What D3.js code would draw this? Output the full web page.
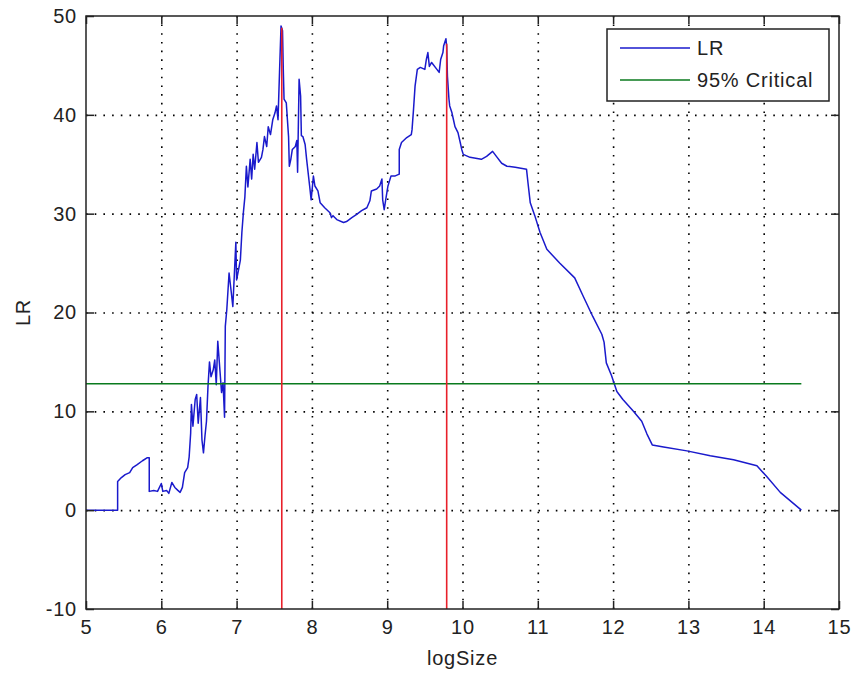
<!DOCTYPE html>
<html>
<head>
<meta charset="utf-8">
<script src="https://cdn.jsdelivr.net/npm/d3@7"></script>
<style>
  body { margin: 0; background: #fff; }
  text { font-family: "Liberation Sans", Arial, sans-serif; }
</style>
</head>
<body>
<div id="viz"></div>
<script>
// LR curve
const logSize = [5.00, 5.42, 5.42, 5.47, 5.52, 5.58, 5.62, 5.68, 5.75, 5.81, 5.84, 5.84, 5.90, 5.95, 6.00, 6.02, 6.07, 6.10, 6.14, 6.18,
  6.22, 6.25, 6.28, 6.31, 6.35, 6.37, 6.39, 6.40, 6.42, 6.45, 6.47, 6.49, 6.52, 6.54, 6.56, 6.58, 6.60, 6.62, 6.64, 6.66,
  6.69, 6.71, 6.73, 6.75, 6.78, 6.80, 6.82, 6.84, 6.85, 6.87, 6.90, 6.93, 6.95, 6.99, 7.00, 7.05, 7.07, 7.09, 7.11, 7.13,
  7.15, 7.18, 7.20, 7.22, 7.24, 7.27, 7.29, 7.33, 7.35, 7.37, 7.40, 7.42, 7.45, 7.48, 7.51, 7.53, 7.55, 7.57, 7.59, 7.61,
  7.62, 7.63, 7.66, 7.69, 7.70, 7.72, 7.74, 7.78, 7.80, 7.81, 7.83, 7.85, 7.86, 7.88, 7.91, 7.93, 7.97, 7.99, 8.02, 8.04,
  8.08, 8.11, 8.17, 8.24, 8.26, 8.28, 8.33, 8.42, 8.46, 8.53, 8.59, 8.66, 8.73, 8.77, 8.79, 8.86, 8.90, 8.93, 8.94, 8.96,
  8.98, 9.01, 9.05, 9.10, 9.16, 9.16, 9.19, 9.26, 9.32, 9.33, 9.35, 9.37, 9.40, 9.44, 9.50, 9.52, 9.54, 9.56, 9.59, 9.66,
  9.69, 9.71, 9.74, 9.75, 9.78, 9.79, 9.80, 9.82, 9.83, 9.86, 9.88, 9.90, 9.94, 9.97, 9.99, 10.01, 10.10, 10.25, 10.32, 10.40,
  10.45, 10.52, 10.59, 10.70, 10.85, 10.87, 10.90, 10.96, 11.03, 11.12, 11.29, 11.49, 11.60, 11.73, 11.85, 11.88, 11.91, 11.98, 12.05, 12.13,
  12.27, 12.38, 12.45, 12.52, 12.67, 12.98, 13.29, 13.60, 13.91, 14.04, 14.22, 14.50];
const lr = [0, 0, 2.9, 3.3, 3.6, 3.8, 4.3, 4.6, 5.0, 5.3, 5.3, 1.9, 2.0, 1.9, 2.7, 1.9, 2.0, 1.7, 2.8, 2.3,
  2.0, 1.8, 2.3, 3.8, 4.3, 5.4, 7.8, 10.7, 8.5, 11.2, 11.7, 8.8, 11.4, 7.1, 5.8, 7.5, 9.0, 12.5, 15.0, 13.5,
  14.2, 15.2, 12.7, 17.1, 14.0, 11.9, 12.9, 9.4, 18.6, 20.3, 24.0, 22.0, 20.6, 27.1, 23.3, 25.3, 28.1, 30.1, 31.7, 34.8,
  32.7, 35.5, 33.5, 36.0, 34.5, 37.2, 35.2, 35.7, 36.5, 37.8, 36.8, 38.8, 38.0, 39.5, 40.2, 40.9, 39.5, 44.3, 49.0, 48.5,
  44.6, 41.6, 41.2, 37.8, 34.8, 35.5, 36.5, 36.8, 37.4, 34.2, 43.6, 41.9, 37.9, 37.8, 37.0, 35.5, 32.8, 31.4, 33.8, 32.8,
  32.3, 31.1, 30.6, 30.1, 29.6, 29.8, 29.4, 29.1, 29.2, 29.6, 29.9, 30.3, 30.6, 31.3, 32.3, 32.5, 32.8, 33.5, 31.4, 30.4,
  31.4, 32.8, 33.8, 33.8, 34.0, 36.5, 37.2, 37.7, 38.0, 38.5, 40.6, 42.9, 44.6, 44.8, 44.6, 45.6, 46.3, 44.9, 45.3, 44.6,
  44.3, 45.6, 46.3, 47.0, 47.7, 46.9, 43.9, 41.6, 40.9, 40.2, 39.5, 38.8, 38.2, 37.2, 36.5, 36.0, 35.7, 35.5, 35.8, 36.3,
  35.8, 35.1, 34.8, 34.7, 34.5, 33.1, 31.1, 29.8, 28.1, 26.4, 25.0, 23.5, 21.7, 19.6, 17.8, 17.0, 14.9, 13.6, 12.0, 11.2,
  10.0, 9.0, 7.7, 6.6, 6.4, 6.0, 5.5, 5.1, 4.5, 3.4, 1.8, 0];

const critical = 12.8;
const breakX = [7.60, 9.79];
const breakTop = [48.8, 47.2];

const xTicks = [5, 6, 7, 8, 9, 10, 11, 12, 13, 14, 15];
const yTicks = [-10, 0, 10, 20, 30, 40, 50];
const seriesNames = ["LR", "95% Critical"];

const width = 854, height = 673;
const pLeft = 86, pRight = 839, pTop = 16, pBottom = 609;

const svg = d3.select("#viz").append("svg")
    .attr("width", width)
    .attr("height", height);

const x = d3.scaleLinear().domain([5, 15]).range([pLeft, pRight]);
const y = d3.scaleLinear().domain([-10, 50]).range([pBottom, pTop]);

// dotted grid
const gridX = svg.append("g").attr("transform", `translate(0,${pBottom})`)
    .call(d3.axisBottom(x).tickValues(xTicks.slice(1, -1)).tickSize(-(pBottom - pTop)).tickFormat(""));
const gridY = svg.append("g").attr("transform", `translate(${pLeft},0)`)
    .call(d3.axisLeft(y).tickValues(yTicks.slice(1, -1)).tickSize(-(pRight - pLeft)).tickFormat(""));
[gridX, gridY].forEach(g => {
    g.select(".domain").remove();
    g.selectAll("line").attr("stroke", "#000").attr("stroke-width", 1.6).attr("stroke-dasharray", "1.6,7.1");
});

// lines
const line = d3.line().x((d, i) => x(logSize[i])).y(d => y(d));
svg.append("path")
    .attr("d", line(lr))
    .attr("fill", "none")
    .attr("stroke", "#1a1acc")
    .attr("stroke-width", 1.5)
    .attr("stroke-linejoin", "round");

svg.append("line")
    .attr("x1", x(logSize[0])).attr("x2", x(logSize[logSize.length - 1]))
    .attr("y1", y(critical)).attr("y2", y(critical))
    .attr("stroke", "#0a7a1e").attr("stroke-width", 1.5);

svg.selectAll(".brk").data(breakX).enter().append("line")
    .attr("class", "brk")
    .attr("x1", d => x(d)).attr("x2", d => x(d))
    .attr("y1", y(-10)).attr("y2", (d, i) => y(breakTop[i]))
    .attr("stroke", "#e8202a").attr("stroke-width", 1.6);

// box and ticks
svg.append("rect")
    .attr("x", pLeft).attr("y", pTop)
    .attr("width", pRight - pLeft).attr("height", pBottom - pTop)
    .attr("fill", "none").attr("stroke", "#222").attr("stroke-width", 1.5);

const fmt = d => String(d); // plain hyphen for negatives, like the original
const axes = [
    svg.append("g").attr("transform", `translate(0,${pBottom})`)
        .call(d3.axisBottom(x).tickValues(xTicks).tickSize(-8).tickPadding(11).tickFormat(fmt)),
    svg.append("g").attr("transform", `translate(${pLeft},0)`)
        .call(d3.axisLeft(y).tickValues(yTicks).tickSize(-8).tickPadding(9).tickFormat(fmt)),
    svg.append("g").attr("transform", `translate(0,${pTop})`)
        .call(d3.axisTop(x).tickValues(xTicks).tickSize(-8).tickFormat("")),
    svg.append("g").attr("transform", `translate(${pRight},0)`)
        .call(d3.axisRight(y).tickValues(yTicks).tickSize(-8).tickFormat(""))
];
axes.forEach(g => {
    g.select(".domain").remove();
    g.selectAll("line").attr("stroke", "#222").attr("stroke-width", 1.5);
    g.selectAll("text").attr("font-size", 20).attr("letter-spacing", 0.8)
        .attr("fill", "#222").style("font-family", "'Liberation Sans', Arial, sans-serif");
});

// axis titles
svg.append("text")
    .attr("x", (pLeft + pRight) / 2).attr("y", 665)
    .attr("text-anchor", "middle")
    .attr("font-size", 20).attr("letter-spacing", 0.8).attr("fill", "#222")
    .text("logSize");

svg.append("text")
    .attr("transform", `translate(30,${(pTop + pBottom) / 2}) rotate(-90)`)
    .attr("text-anchor", "middle")
    .attr("font-size", 20).attr("letter-spacing", 0.8).attr("fill", "#222")
    .text("LR");

// legend
const legend = svg.append("g");
legend.append("rect")
    .attr("x", 607).attr("y", 29).attr("width", 222).attr("height", 72)
    .attr("fill", "#fff").attr("stroke", "#222").attr("stroke-width", 1.5);
const legendColors = ["#1a1acc", "#0a7a1e"];
seriesNames.forEach((name, i) => {
    const ly = 48 + i * 32;
    legend.append("line")
        .attr("x1", 620).attr("x2", 690).attr("y1", ly).attr("y2", ly)
        .attr("stroke", legendColors[i]).attr("stroke-width", 1.5);
    legend.append("text")
        .attr("x", 697).attr("y", ly).attr("dy", "0.35em")
        .attr("font-size", 20).attr("letter-spacing", 0.8).attr("fill", "#222")
        .text(name);
});
</script>
</body>
</html>
